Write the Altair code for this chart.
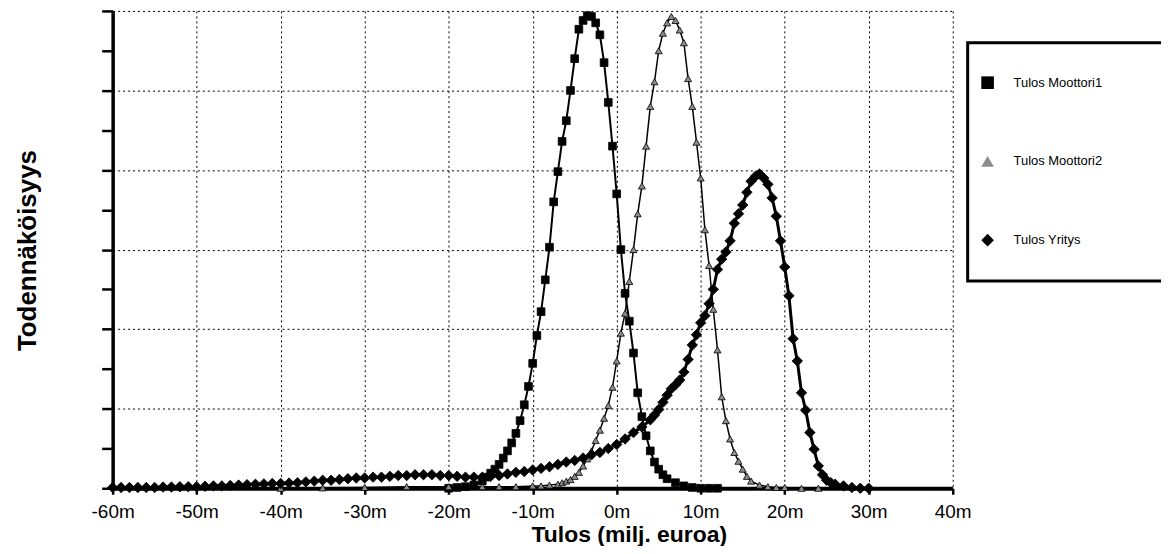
import altair as alt
import pandas as pd

series_names = ["Tulos Moottori1", "Tulos Moottori2", "Tulos Yritys"]

# x tick values (milj. euroa) and y tick positions (grid units, no labels)
x_ticks = [-60, -50, -40, -30, -20, -10, 0, 10, 20, 30, 40]
y_ticks = [0, 0.5, 1, 1.5, 2, 2.5, 3, 3.5, 4, 4.5, 5, 5.5, 6]

# Tulos Moottori1
m1_x = [-20, -19, -18, -17, -16, -15.5, -15, -14.5, -14, -13.5, -13, -12.5, -12, -11.5,
        -11, -10.5, -10, -9.5, -9, -8.5, -8, -7.5, -7, -6.5, -6, -5.5, -5, -4.5, -4,
        -3.5, -3, -2.5, -2, -1.5, -1, -0.5, 0, 0.5, 1, 1.5, 2, 2.5, 3, 3.5, 4, 4.5,
        5, 5.5, 6, 7, 8, 9, 10, 11, 12]
m1_y = [0.0, 0.01, 0.02, 0.04, 0.09, 0.14, 0.19, 0.24, 0.3, 0.38, 0.47, 0.57, 0.69, 0.85,
        1.05, 1.28, 1.57, 1.92, 2.22, 2.62, 3.03, 3.6, 3.98, 4.36, 4.62, 5.0, 5.4, 5.77, 5.88,
        5.94, 5.93, 5.85, 5.7, 5.35, 4.85, 4.3, 3.7, 3.0, 2.45, 2.1, 1.7, 1.2, 0.9, 0.66, 0.47, 0.33,
        0.24, 0.17, 0.12, 0.07, 0.03, 0.01, 0.0, 0.0, 0.0]

# Tulos Moottori2
m2_x = [-40, -35, -30, -25, -20, -16, -14, -12, -10, -9, -8, -7, -6.5, -6, -5.5, -5,
        -4.5, -4, -3.5, -3, -2.5, -2, -1.5, -1, -0.5, 0, 0.5, 1, 1.5, 2, 2.5, 3, 3.5,
        4, 4.5, 5, 5.5, 6, 6.5, 7, 7.5, 8, 8.5, 9, 9.5, 10, 10.5, 11, 11.5, 12, 12.5,
        13, 13.5, 14, 14.5, 15, 15.5, 16, 17, 18, 19, 20, 22, 24]
m2_y = [0.0, 0.005, 0.01, 0.02, 0.02, 0.02, 0.02, 0.02, 0.03, 0.03, 0.04, 0.05, 0.07, 0.09, 0.11, 0.15,
        0.2, 0.28, 0.37, 0.47, 0.6, 0.73, 0.88, 1.04, 1.27, 1.6, 1.95, 2.2, 2.6, 3.0, 3.45, 3.8, 4.3,
        4.8, 5.11, 5.5, 5.72, 5.85, 5.93, 5.88, 5.76, 5.6, 5.15, 4.8, 4.35, 3.9, 3.25, 2.8, 2.25, 1.74, 1.15,
        0.85, 0.62, 0.45, 0.34, 0.24, 0.15, 0.09, 0.04, 0.02, 0.01, 0.01, 0.0, 0.0]

# Tulos Yritys
yr_x = [-60, -59, -58, -57, -56, -55, -54, -53, -52, -51, -50, -49, -48, -47, -46, -45,
        -44, -43, -42, -41, -40, -39, -38, -37, -36, -35, -34, -33, -32, -31, -30, -29,
        -28, -27, -26, -25, -24, -23, -22, -21, -20, -19, -18, -17, -16, -15, -14, -13,
        -12, -11, -10, -9, -8, -7, -6, -5, -4, -3, -2, -1, 0, 1, 2, 3, 4, 4.5, 5, 5.5,
        6, 6.5, 7, 7.5, 8, 8.5, 9, 9.5, 10, 10.5, 11, 11.5, 12, 12.5, 13, 13.5, 14, 14.5,
        15, 15.5, 16, 16.5, 17, 17.5, 18, 18.5, 19, 19.5, 20, 20.5, 21, 21.5, 22, 22.5,
        23, 23.5, 24, 24.5, 25, 25.5, 26, 27, 28, 29, 30]
yr_y = [0.01, 0.01, 0.01, 0.01, 0.01, 0.01, 0.015, 0.015, 0.02, 0.02, 0.02, 0.025, 0.03, 0.03, 0.035, 0.04,
        0.045, 0.05, 0.055, 0.06, 0.06, 0.065, 0.07, 0.08, 0.09, 0.1, 0.1, 0.11, 0.12, 0.13, 0.13, 0.14,
        0.14, 0.15, 0.16, 0.16, 0.17, 0.17, 0.17, 0.16, 0.16, 0.15, 0.14, 0.14, 0.14, 0.15, 0.16, 0.18,
        0.2, 0.21, 0.23, 0.25, 0.27, 0.3, 0.33, 0.35, 0.38, 0.42, 0.45, 0.5, 0.55, 0.62, 0.7, 0.77, 0.86, 0.92, 0.99, 1.08,
        1.17, 1.25, 1.3, 1.36, 1.46, 1.62, 1.8, 1.93, 2.08, 2.17, 2.32, 2.5, 2.75, 2.88, 2.97, 3.11, 3.33, 3.45,
        3.56, 3.72, 3.86, 3.92, 3.95, 3.9, 3.82, 3.65, 3.42, 3.11, 2.78, 2.42, 1.88, 1.6, 1.2, 0.98,
        0.7, 0.49, 0.28, 0.17, 0.1, 0.07, 0.05, 0.03, 0.01, 0.0, 0.0]

rows = []
for name, xs, ys in zip(series_names, [m1_x, m2_x, yr_x], [m1_y, m2_y, yr_y]):
    for xv, yv in zip(xs, ys):
        rows.append({"series": name, "x": xv, "y": yv})
df = pd.DataFrame(rows)

FONT = "Liberation Sans"
pad_label = "\u2003\u2002\u2800"

legend = alt.Legend(
    title=None, orient="none", legendX=858, legendY=32, direction="vertical",
    strokeColor="black", fillColor="white", padding=33, rowPadding=63,
    symbolSize=160, symbolStrokeColor="black", symbolStrokeWidth=0.8,
    labelFont=FONT, labelFontSize=13, labelColor="black", labelOffset=19,
    symbolOffset=-20, labelExpr="datum.label + '" + pad_label + "'",
)

x_enc = alt.X(
    "x:Q",
    scale=alt.Scale(domain=[-60, 40], nice=False, zero=False),
    axis=alt.Axis(
        values=x_ticks, labelExpr="datum.value + 'm'", title="Tulos (milj. euroa)",
        labelFont=FONT, labelFontSize=19, labelColor="black", labelPadding=8, labelFlush=False,
        tickSize=6, tickWidth=2.5, tickColor="black", domainWidth=4, domainColor="black",
        titleFont=FONT, titleFontSize=23, titleFontWeight="bold", titleColor="black",
        titleX=518, titleY=53, titleAlign="center", titleBaseline="alphabetic",
        grid=True, gridColor="black", gridDash=[2, 3], gridWidth=1,
    ),
)
y_enc = alt.Y(
    "y:Q",
    scale=alt.Scale(domain=[0, 6], nice=False),
    axis=alt.Axis(
        values=y_ticks, labels=False, title="Todennäköisyys",
        tickSize=11, tickWidth=2.5, tickColor="black", domainWidth=3.5, domainColor="black",
        titleFont=FONT, titleFontSize=26, titleFontWeight="bold", titleColor="black",
        titleX=-85, titleY=240, titleAngle=270, titleAlign="center", titleBaseline="middle",
        grid=True, gridColor="black", gridDash=[2, 3], gridWidth=1,
        gridOpacity={"condition": {"test": "datum.value % 1 === 0", "value": 1}, "value": 0},
    ),
)

shape_enc = alt.Shape("series:N", scale=alt.Scale(domain=series_names, range=["square", "triangle-up", "diamond"]), legend=legend)
fill_enc = alt.Fill("series:N", scale=alt.Scale(domain=series_names, range=["black", "#8c8c8c", "black"]), legend=legend)

base = alt.Chart(df).encode(x=x_enc, y=y_enc)

line_widths = [2, 1.5, 3]
point_sizes = [60, 50, 110]

layers = []
for name, lw in zip(series_names, line_widths):
    layers.append(
        base.transform_filter(alt.datum.series == name)
        .mark_line(color="black", strokeWidth=lw)
    )
for name, ps in zip(series_names, point_sizes):
    layers.append(
        base.transform_filter(alt.datum.series == name)
        .mark_point(filled=True, stroke="black", strokeWidth=0.8, opacity=1, size=ps)
        .encode(shape=shape_enc, fill=fill_enc)
    )

chart = (
    alt.layer(*layers)
    .properties(
        width=843, height=479,
        autosize=alt.AutoSizeParams(type="none"),
        padding={"left": 105, "top": 2, "right": 209, "bottom": 57},
        background="white",
    )
    .configure_view(stroke=None)
    .configure_legend(strokeWidth=3)
)

chart.save("out.html", embed_options={"renderer": "svg", "actions": False})
